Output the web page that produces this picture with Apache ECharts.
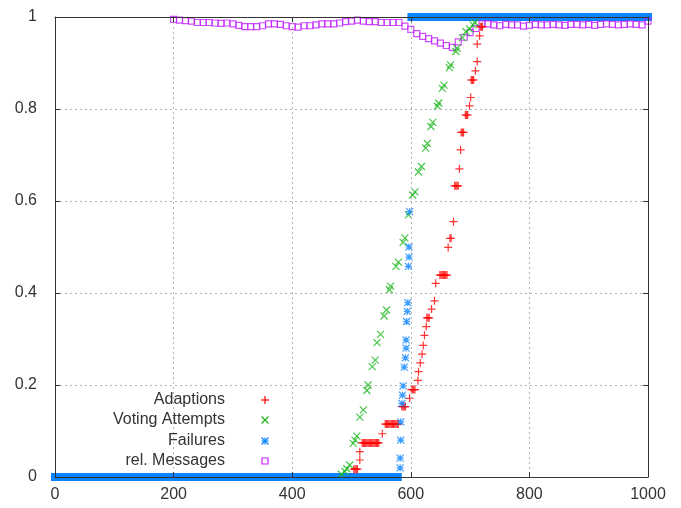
<!DOCTYPE html>
<html>
<head>
<meta charset="utf-8">
<script src="https://cdn.jsdelivr.net/npm/echarts@6/dist/echarts.min.js"></script>
<style>
  html, body { margin: 0; padding: 0; background: #fff; }
  #chart { width: 681px; height: 508px; }
</style>
</head>
<body>
<div id="chart"></div>
<script>
var myChart = echarts.init(document.getElementById('chart'))

var xTicks = { min: 0, max: 1000, interval: 200 }
var yTicks = { min: 0, max: 1, interval: 0.2 }
var seriesNames = ['Adaptions', 'Voting Attempts', 'Failures', 'rel. Messages']
var seriesColors = ['#ff0000', '#1cb81c', '#0a84ff', '#c020ff']

// [time, fraction]
var adaptions = [
    [504, 0.017], [506, 0.017], [508, 0.017], [510, 0.017],
    [514, 0.037], [514, 0.055],
    [518, 0.074], [520, 0.074], [522, 0.074], [524, 0.074], [526, 0.074], [528, 0.074], [530, 0.074],
    [532, 0.074], [534, 0.074], [536, 0.074], [538, 0.074], [540, 0.074], [542, 0.074], [544, 0.074], [546, 0.074],
    [552, 0.094],
    [557, 0.115], [559, 0.115], [561, 0.115], [563, 0.115], [565, 0.115], [567, 0.115],
    [569, 0.115], [571, 0.115], [573, 0.115], [575, 0.115], [577, 0.115], [579, 0.115],
    [585, 0.153], [587, 0.153], [589, 0.153], [591, 0.153],
    [598, 0.171],
    [601, 0.19], [603, 0.19], [605, 0.19], [607, 0.19],
    [612, 0.21], [613, 0.229], [616, 0.248], [619, 0.267], [621, 0.286], [623, 0.308], [626, 0.327],
    [627, 0.346], [629, 0.346], [631, 0.346],
    [635, 0.365], [640, 0.383], [642, 0.421],
    [649, 0.439], [651, 0.439], [653, 0.439], [655, 0.439], [657, 0.439], [659, 0.439], [661, 0.439],
    [663, 0.499],
    [666, 0.519], [668, 0.519],
    [672, 0.555],
    [674, 0.633], [676, 0.633], [678, 0.633], [680, 0.633],
    [682, 0.67], [684, 0.711],
    [685, 0.749], [687, 0.749], [689, 0.749],
    [692, 0.787], [694, 0.787], [696, 0.787],
    [699, 0.807], [701, 0.825],
    [702, 0.863], [704, 0.863], [706, 0.863],
    [709, 0.883], [712, 0.903], [712, 0.941], [716, 0.959],
    [717, 0.979], [719, 0.979], [721, 0.979]
]

var votingAttempts = [
    [483, 0.006], [489, 0.012], [492, 0.018], [497, 0.026], [503, 0.073], [506, 0.080], [509, 0.089],
    [514, 0.13], [520, 0.146], [526, 0.188], [528, 0.2], [535, 0.24], [540, 0.254],
    [543, 0.292], [549, 0.31], [555, 0.35], [559, 0.363], [564, 0.407], [566, 0.415],
    [575, 0.458], [579, 0.467], [587, 0.51], [590, 0.52], [596, 0.57], [603, 0.613], [607, 0.62],
    [613, 0.663], [618, 0.675], [625, 0.715], [628, 0.725], [634, 0.762], [637, 0.771],
    [645, 0.806], [647, 0.813], [653, 0.845], [656, 0.852], [665, 0.89], [667, 0.896],
    [676, 0.925], [678, 0.932], [687, 0.955], [693, 0.968], [699, 0.974], [705, 0.983], [708, 0.988]
]

var failures = [
    [582, 0.02], [582, 0.041], [583, 0.08], [583, 0.12], [585, 0.16], [586, 0.178], [587, 0.198],
    [589, 0.239], [591, 0.259], [592, 0.28], [592, 0.298], [593, 0.338], [594, 0.36], [595, 0.379],
    [596, 0.458], [597, 0.478], [597, 0.50], [598, 0.577]
]
// runs of failure points so dense they merge into a band
var failuresAtZero = [[0, 0], [578, 0]]
var failuresAtOne = [[601, 1], [1000, 1]]

var relMessages = [
    [200, 0.995], [210, 0.993], [220, 0.992], [230, 0.991], [240, 0.988], [250, 0.988], [260, 0.988],
    [270, 0.987], [280, 0.986], [290, 0.987], [300, 0.985], [310, 0.982], [320, 0.979], [330, 0.979],
    [340, 0.979], [350, 0.981], [360, 0.985], [370, 0.985], [380, 0.984], [390, 0.981], [400, 0.979],
    [410, 0.978], [420, 0.981], [430, 0.981], [440, 0.983], [450, 0.985], [460, 0.985], [470, 0.985],
    [480, 0.987], [490, 0.990], [500, 0.991], [510, 0.993], [520, 0.991], [530, 0.990], [540, 0.990],
    [550, 0.988], [560, 0.988], [570, 0.988], [580, 0.988], [590, 0.980], [600, 0.973], [610, 0.964],
    [620, 0.958], [630, 0.953], [640, 0.948], [650, 0.943], [660, 0.938], [670, 0.934], [680, 0.946],
    [690, 0.956], [700, 0.966], [710, 0.975], [720, 0.985], [730, 0.985], [740, 0.983], [750, 0.981],
    [760, 0.984], [770, 0.983], [780, 0.983], [790, 0.980], [800, 0.982], [810, 0.984], [820, 0.983],
    [830, 0.983], [840, 0.984], [850, 0.983], [860, 0.982], [870, 0.984], [880, 0.984], [890, 0.983],
    [900, 0.984], [910, 0.982], [920, 0.984], [930, 0.985], [940, 0.984], [950, 0.983], [960, 0.984],
    [970, 0.985], [980, 0.984], [990, 0.983], [1000, 0.991]
]

var FONT = '"Liberation Sans", Arial, sans-serif'
var plusPath = 'path://M0,5L10,5M5,0L5,10'
var crossPath = 'path://M0,0L10,10M10,0L0,10'
var starPath = 'path://M0,5L10,5M5,0L5,10M0,0L10,10M10,0L0,10'

function pointSeries(name, data, symbol, size, color) {
    return {
        name: name,
        type: 'scatter',
        data: data,
        symbol: symbol,
        symbolSize: size,
        silent: true,
        z: 3,
        itemStyle: { color: 'none', borderColor: color, borderWidth: 1.2 }
    }
}

function bandSeries(name, data, color) {
    return {
        name: name,
        type: 'line',
        data: data,
        symbol: 'none',
        clip: false,
        silent: true,
        z: 2,
        lineStyle: { color: color, width: 8, cap: 'square' }
    }
}

// legend drawn by hand: right-aligned text, sample marker to the right
var legendRows = [400, 420, 441, 461]
var legendTextX = 225
var legendMarkX = 265
function legendMarker(kind, cx, cy, color) {
    var s = { stroke: color, lineWidth: 1.2, fill: 'none' }
    function ln(x1, y1, x2, y2) {
        return { type: 'line', shape: { x1: cx + x1, y1: cy + y1, x2: cx + x2, y2: cy + y2 }, style: s }
    }
    if (kind === 'plus') return [ln(-4, 0, 4, 0), ln(0, -4, 0, 4)]
    if (kind === 'cross') return [ln(-3.5, -3.5, 3.5, 3.5), ln(3.5, -3.5, -3.5, 3.5)]
    if (kind === 'star') return [ln(-3.5, 0, 3.5, 0), ln(0, -3.5, 0, 3.5), ln(-3.5, -3.5, 3.5, 3.5), ln(3.5, -3.5, -3.5, 3.5)]
    return [{ type: 'rect', shape: { x: cx - 3, y: cy - 3, width: 6, height: 6 }, style: s }]
}
var legendKinds = ['plus', 'cross', 'star', 'square']
var graphics = []
seriesNames.forEach(function (n, i) {
    graphics.push({
        type: 'text', x: legendTextX, y: legendRows[i], z: 10,
        style: { text: n, textAlign: 'right', textVerticalAlign: 'middle', fill: '#333', font: '16px ' + FONT }
    })
    legendMarker(legendKinds[i], legendMarkX, legendRows[i], seriesColors[i]).forEach(function (g) {
        g.z = 10
        graphics.push(g)
    })
})

var gridLine = { show: true, lineStyle: { color: '#b4b4b4', type: [2, 3], width: 1 } }
var frameLine = { show: true, onZero: false, lineStyle: { color: '#333', width: 1 } }
var insideTick = { show: true, inside: true, length: 5, lineStyle: { color: '#333' } }

var option = {
    backgroundColor: '#ffffff',
    animation: false,
    textStyle: { fontFamily: FONT },
    grid: { left: 55, right: 33, top: 17, bottom: 31, containLabel: false },
    xAxis: [
        {
            type: 'value', position: 'bottom', z: 4,
            min: xTicks.min, max: xTicks.max, interval: xTicks.interval,
            axisLine: frameLine, axisTick: insideTick,
            axisLabel: { color: '#333', fontSize: 16, margin: 10, fontFamily: FONT,
                formatter: function (v) { return String(v) } },
            splitLine: gridLine
        },
        {
            type: 'value', position: 'top', z: 4,
            min: xTicks.min, max: xTicks.max, interval: xTicks.interval,
            axisLine: frameLine, axisTick: insideTick,
            axisLabel: { show: false }, splitLine: { show: false }
        }
    ],
    yAxis: [
        {
            type: 'value', position: 'left', z: 4,
            min: yTicks.min, max: yTicks.max, interval: yTicks.interval,
            axisLine: frameLine, axisTick: insideTick,
            axisLabel: { color: '#333', fontSize: 16, margin: 18, fontFamily: FONT },
            splitLine: gridLine
        },
        {
            type: 'value', position: 'right', z: 4,
            min: yTicks.min, max: yTicks.max, interval: yTicks.interval,
            axisLine: frameLine, axisTick: insideTick,
            axisLabel: { show: false }, splitLine: { show: false }
        }
    ],
    graphic: graphics,
    series: [
        bandSeries(seriesNames[2], failuresAtZero, seriesColors[2]),
        bandSeries(seriesNames[2], failuresAtOne, seriesColors[2]),
        pointSeries(seriesNames[3], relMessages, 'rect', 6, seriesColors[3]),
        pointSeries(seriesNames[1], votingAttempts, crossPath, 7, seriesColors[1]),
        pointSeries(seriesNames[0], adaptions, plusPath, 8, seriesColors[0]),
        pointSeries(seriesNames[2], failures, starPath, 7, seriesColors[2])
    ]
}
myChart.setOption(option)
</script>
</body>
</html>
